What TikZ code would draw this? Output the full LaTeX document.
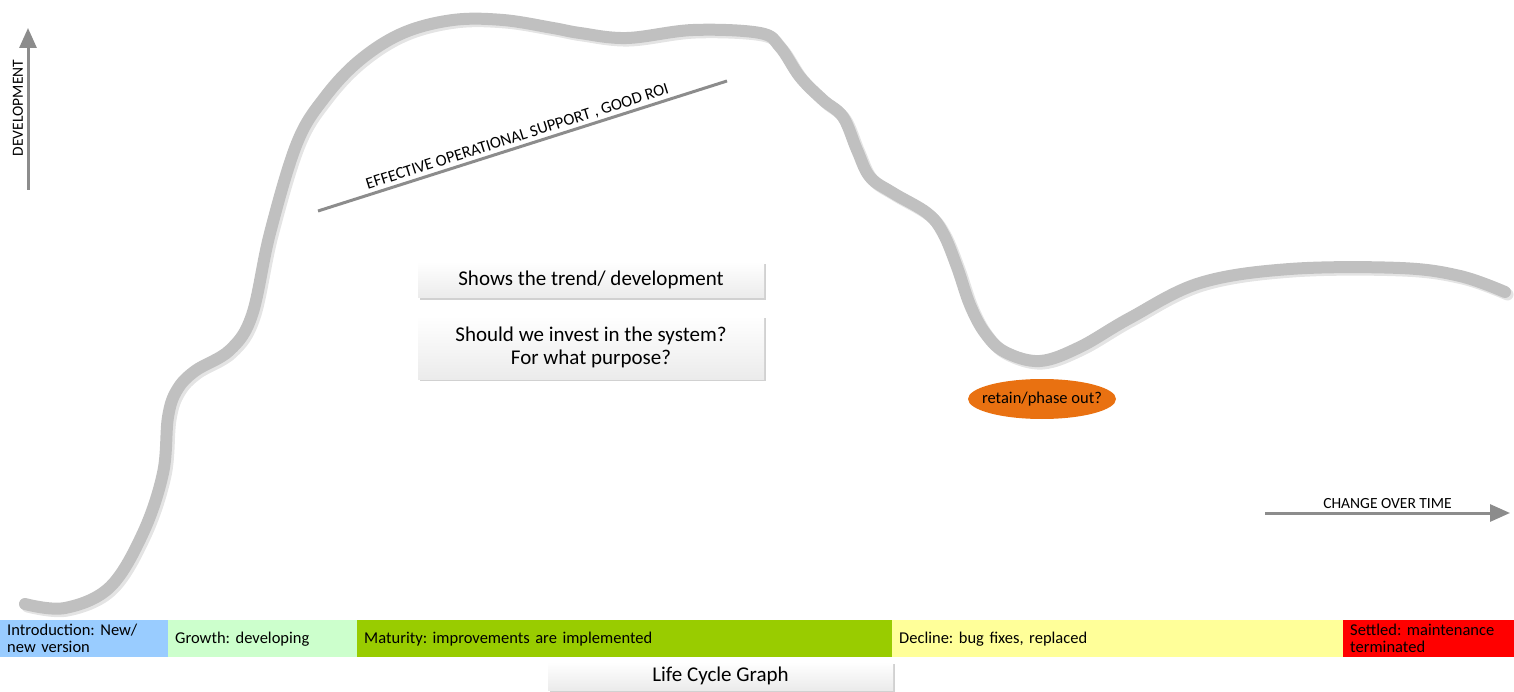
\documentclass[tikz,border=0pt]{standalone}
\usepackage{fontspec}
\setmainfont{Carlito}
\usetikzlibrary{arrows.meta,shapes.geometric,shadows}
\definecolor{curvegray}{HTML}{C0C0C0}
\definecolor{curveshadow}{HTML}{E4E4E4}
\definecolor{axisgray}{HTML}{8C8C8C}
\definecolor{introblue}{HTML}{99CCFF}
\definecolor{growthgreen}{HTML}{CCFFCC}
\definecolor{maturegreen}{HTML}{99CC00}
\definecolor{declineyellow}{HTML}{FFFF99}
\definecolor{settledred}{HTML}{FF0000}
\definecolor{ovalorange}{HTML}{E97111}
\definecolor{boxbottom}{HTML}{EBEBEB}
\tikzset{
  segbox/.style 2 args={anchor=north west, minimum height=37pt, inner xsep=7pt, inner ysep=0pt,
     text width=#1-14pt, align=left, fill=#2, draw=none,
     font=\fontsize{16.5}{17}\selectfont},
  notebox/.style={minimum width=346pt, inner sep=0pt, align=center,
     top color=white, bottom color=boxbottom, draw=none,
     drop shadow={shadow xshift=2pt, shadow yshift=-2pt, fill=black!18, opacity=1},
     font=\fontsize{21}{23}\selectfont},
  axisarrow/.style={draw=axisgray, line width=3pt, -{Triangle[length=20pt,width=17pt]}},
  axislabel/.style={font=\fontsize{15.5}{17}\selectfont, inner sep=3pt},
  curveline/.style={line width=12pt, line cap=round, line join=round},
}
\begin{document}
\frenchspacing
\begin{tikzpicture}[x=1pt,y=-1pt]
\useasboundingbox (0,0) rectangle (1514,692);
\def\lifecurve{plot[smooth, tension=0.6] coordinates {
 (25,604) (65,608) (110,587) (143,533) (163,473) (168,417) (177,390) (195,371)
 (230,350) (252,315) (270,233) (297,143) (325,97) (360,60) (403,33)
 (453,20) (503,20) (553,28) (580,33) (627,38) (693,30) (760,33) (780,47)
 (800,77) (823,100) (843,117) (857,150) (870,177) (893,193) (927,213) (943,233)
 (957,267) (970,305) (985,333) (1005,352) (1040,361) (1080,347) (1130,318)
 (1200,283) (1290,269) (1400,268) (1460,276) (1505,292)}}
% curve shadow and curve
\draw[curveline, draw=curveshadow, xshift=2.5pt, yshift=-2.5pt] \lifecurve;
\draw[curveline, draw=curvegray] \lifecurve;

% vertical axis
\coordinate (v1) at (28,190);
\coordinate (v2) at (28,28);
\draw[axisarrow] (v1) -- (v2);
\node[axislabel, rotate=90] (devlabel) at (18,108) {DEVELOPMENT};

% horizontal axis
\coordinate (h1) at (1265,513);
\coordinate (h2) at (1510,513);
\draw[axisarrow] (h1) -- node[axislabel, above] (timelabel) {CHANGE OVER TIME} (h2);

% diagonal line
\coordinate (e1) at (318,211);
\coordinate (e2) at (727,81);
\draw[draw=axisgray, line width=3pt] (e1) -- node[sloped, above, pos=0.495, inner sep=2pt,
   font=\fontsize{16.5}{17}\selectfont] (eff) {EFFECTIVE OPERATIONAL SUPPORT , GOOD ROI} (e2);

% note boxes
\node[notebox, minimum height=36pt] (trend) at (591,280) {Shows the trend/ development};
\node[notebox, minimum height=63pt] (invest) at (591,347.5) {Should we invest in the system?\\For what purpose?};
\node[notebox, minimum height=28pt, minimum width=345pt] (title) at (720.5,676) {Life Cycle Graph};

% oval
\node[ellipse, fill=ovalorange, minimum width=148pt, minimum height=40pt, inner sep=0pt,
   font=\fontsize{16.5}{17}\selectfont] (retain) at (1042,399) {\makebox[0pt]{retain/phase out?}};

% phase bar
\node[segbox={168pt}{introblue}] (intro) at (0,620) {Introduction: New/\\new version};
\node[segbox={189pt}{growthgreen}] (growth) at (168,620) {Growth: developing};
\node[segbox={535pt}{maturegreen}] (maturity) at (357,620) {Maturity: improvements are implemented};
\node[segbox={451pt}{declineyellow}] (decline) at (892,620) {Decline: bug fixes, replaced};
\node[segbox={171pt}{settledred}] (settled) at (1343,620) {Settled: maintenance\\terminated};
\end{tikzpicture}
\end{document}
